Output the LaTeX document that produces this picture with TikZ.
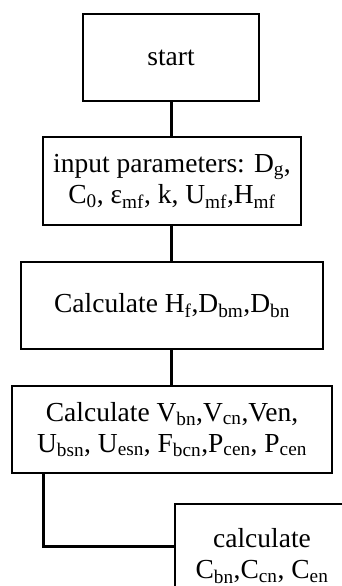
\documentclass[tikz,border=0pt]{standalone}
\usepackage{fontspec}
\setmainfont{Liberation Serif}
\begin{document}
\begin{tikzpicture}[x=1pt,y=1pt,
  box/.style={draw,line width=2.2pt,inner sep=0pt,align=center,
    font=\fontsize{27.5}{31}\selectfont},
  link/.style={line width=3pt}]
\useasboundingbox (0,0) rectangle (342,-586);
\clip (0,0) rectangle (342,-586);
\node[box,minimum width=176,minimum height=87] (b1) at (171,-57.5) {start};
\node[box,minimum width=258,minimum height=88] (b2) at (172,-181)
  {input parameters: D\textsubscript{g},\\C\textsubscript{0}, ε\textsubscript{mf}, k, U\textsubscript{mf},H\textsubscript{mf}};
\node[box,minimum width=302,minimum height=87] (b3) at (172,-305.5)
  {Calculate H\textsubscript{f},D\textsubscript{bm},D\textsubscript{bn}};
\node[box,minimum width=320,minimum height=87] (b4) at (172,-429.5)
  {Calculate V\textsubscript{bn},V\textsubscript{cn},Ven,\\U\textsubscript{bsn}, U\textsubscript{esn}, F\textsubscript{bcn},P\textsubscript{cen}, P\textsubscript{cen}};
\node[box,minimum width=174,minimum height=104] (b5) at (262,-556)
  {calculate\\C\textsubscript{bn},C\textsubscript{cn}, C\textsubscript{en}};
\draw[link] (b1.south -| 171,0) -- (b2.north -| 171,0);
\draw[link] (b2.south -| 171,0) -- (b3.north -| 171,0);
\draw[link] (b3.south -| 171,0) -- (b4.north -| 171,0);
\draw[link] (b4.south -| 43,0) |- ([yshift=10pt]b5.west);
\end{tikzpicture}
\end{document}
